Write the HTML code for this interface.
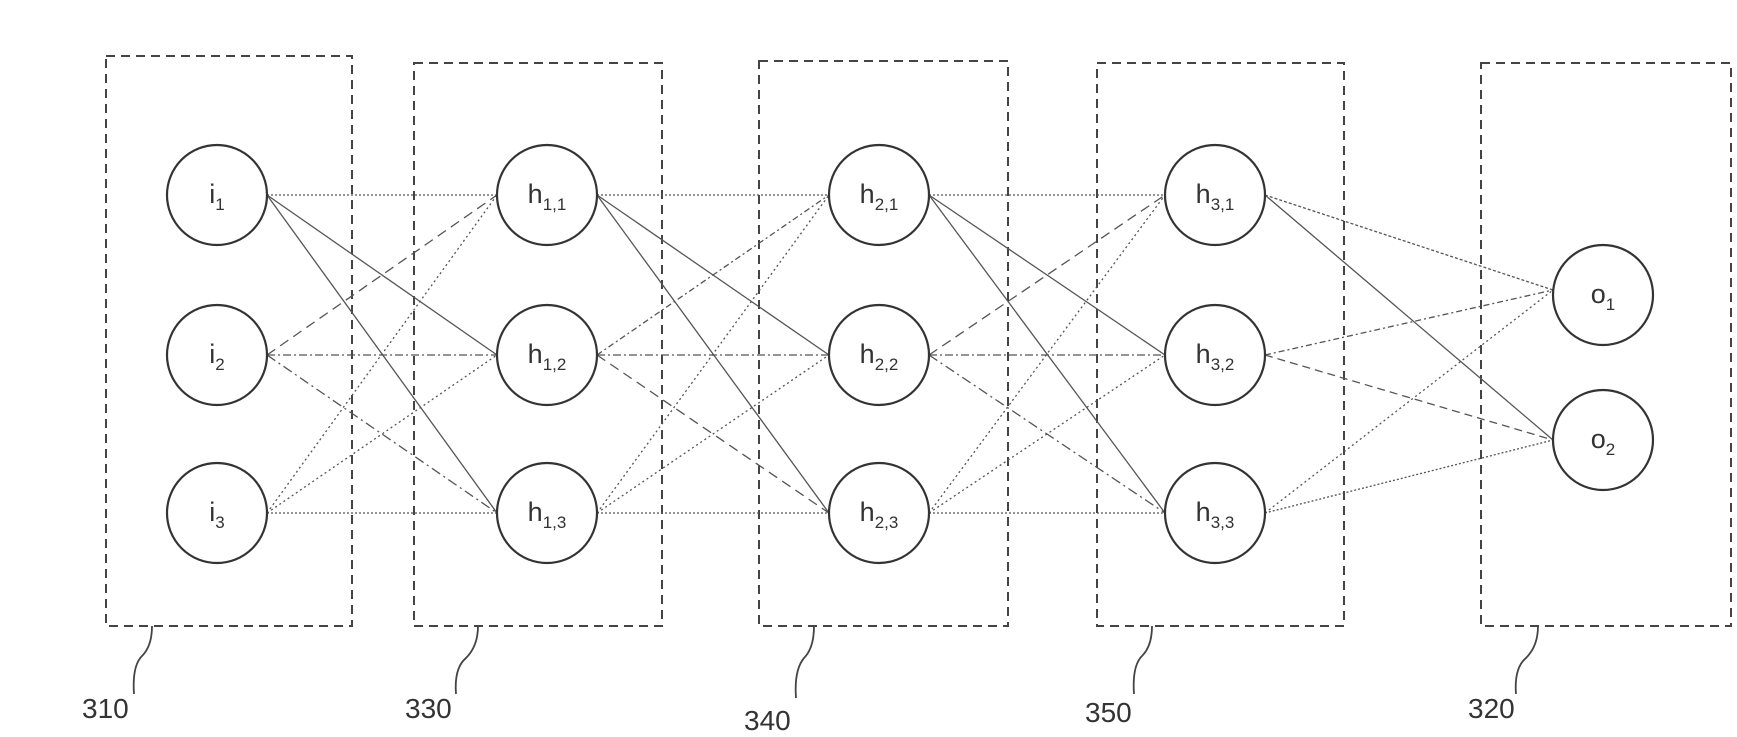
<!DOCTYPE html>
<html><head><meta charset="utf-8"><style>
html,body{margin:0;padding:0;background:#fff;}
svg{display:block;}
text{font-family:"Liberation Sans",sans-serif;fill:#333;}
</style></head><body>
<svg width="1737" height="737" viewBox="0 0 1737 737" xmlns="http://www.w3.org/2000/svg">
<g fill="none" stroke="#444" stroke-width="2" stroke-dasharray="9,6">
<rect x="106" y="56" width="246" height="570"/>
<rect x="414" y="63" width="248" height="563"/>
<rect x="759" y="61" width="249" height="565"/>
<rect x="1097" y="63" width="247" height="563"/>
<rect x="1481" y="63" width="250" height="563"/>
</g>
<g fill="none" stroke="#444" stroke-width="1.8">
<path d="M152,626 q0,20 -10,30 q-10,10 -8,38"/>
<path d="M478,626 q0,20 -12,32 q-12,10 -10,36"/>
<path d="M814,626 q0,22 -10,32 q-10,12 -8,40"/>
<path d="M1152,626 q0,20 -10,30 q-10,10 -8,38"/>
<path d="M1538,626 q0,20 -12,32 q-12,10 -10,36"/>
</g>
<g font-size="28">
<text x="82" y="718">310</text>
<text x="405" y="718">330</text>
<text x="744" y="730">340</text>
<text x="1085" y="722">350</text>
<text x="1468" y="718">320</text>
</g>
<g fill="none" stroke="#555" stroke-width="1.3" id="edges">
<!-- layer 1: i -> h1 -->
<line x1="267" y1="195" x2="497" y2="195" stroke-dasharray="2,2"/>
<line x1="267" y1="195" x2="497" y2="355"/>
<line x1="267" y1="195" x2="497" y2="513"/>
<line x1="267" y1="355" x2="497" y2="195" stroke-dasharray="10,6"/>
<line x1="267" y1="355" x2="497" y2="355" stroke-dasharray="8,3,2,3"/>
<line x1="267" y1="355" x2="497" y2="513" stroke-dasharray="10,4,2,4"/>
<line x1="267" y1="513" x2="497" y2="195" stroke-dasharray="2,3"/>
<line x1="267" y1="513" x2="497" y2="355" stroke-dasharray="2,3"/>
<line x1="267" y1="513" x2="497" y2="513" stroke-dasharray="2,2"/>
<!-- layer 2 -->
<line x1="597" y1="195" x2="829" y2="195" stroke-dasharray="2,2"/>
<line x1="597" y1="195" x2="829" y2="355"/>
<line x1="597" y1="195" x2="829" y2="513"/>
<line x1="597" y1="355" x2="829" y2="195" stroke-dasharray="6,3,2,3"/>
<line x1="597" y1="355" x2="829" y2="355" stroke-dasharray="8,3,2,3"/>
<line x1="597" y1="355" x2="829" y2="513" stroke-dasharray="10,6"/>
<line x1="597" y1="513" x2="829" y2="195" stroke-dasharray="2,3"/>
<line x1="597" y1="513" x2="829" y2="355" stroke-dasharray="2,3"/>
<line x1="597" y1="513" x2="829" y2="513" stroke-dasharray="2,2"/>
<!-- layer 3 -->
<line x1="929" y1="195" x2="1165" y2="195" stroke-dasharray="2,2"/>
<line x1="929" y1="195" x2="1165" y2="355"/>
<line x1="929" y1="195" x2="1165" y2="513"/>
<line x1="929" y1="355" x2="1165" y2="195" stroke-dasharray="10,6"/>
<line x1="929" y1="355" x2="1165" y2="355" stroke-dasharray="8,3,2,3"/>
<line x1="929" y1="355" x2="1165" y2="513" stroke-dasharray="10,4,2,4"/>
<line x1="929" y1="513" x2="1165" y2="195" stroke-dasharray="2,3"/>
<line x1="929" y1="513" x2="1165" y2="355" stroke-dasharray="2,3"/>
<line x1="929" y1="513" x2="1165" y2="513" stroke-dasharray="2,2"/>
<!-- output -->
<line x1="1265" y1="195" x2="1553" y2="290" stroke-dasharray="3,2"/>
<line x1="1265" y1="195" x2="1553" y2="440"/>
<line x1="1265" y1="355" x2="1553" y2="290" stroke-dasharray="6,3,2,3"/>
<line x1="1265" y1="355" x2="1553" y2="440" stroke-dasharray="8,5"/>
<line x1="1265" y1="513" x2="1553" y2="290" stroke-dasharray="2,3"/>
<line x1="1265" y1="513" x2="1553" y2="440" stroke-dasharray="2,2"/>
</g>
<g fill="#fff" stroke="#333" stroke-width="2.2">
<circle cx="217" cy="195" r="50"/><circle cx="217" cy="355" r="50"/><circle cx="217" cy="513" r="50"/>
<circle cx="547" cy="195" r="50"/><circle cx="547" cy="355" r="50"/><circle cx="547" cy="513" r="50"/>
<circle cx="879" cy="195" r="50"/><circle cx="879" cy="355" r="50"/><circle cx="879" cy="513" r="50"/>
<circle cx="1215" cy="195" r="50"/><circle cx="1215" cy="355" r="50"/><circle cx="1215" cy="513" r="50"/>
<circle cx="1603" cy="295" r="50"/><circle cx="1603" cy="440" r="50"/>
</g>
<g font-size="27" text-anchor="middle">
<text x="217" y="203">i<tspan font-size="17" dy="7">1</tspan></text>
<text x="217" y="363">i<tspan font-size="17" dy="7">2</tspan></text>
<text x="217" y="521">i<tspan font-size="17" dy="7">3</tspan></text>
<text x="547" y="203">h<tspan font-size="17" dy="7">1,1</tspan></text>
<text x="547" y="363">h<tspan font-size="17" dy="7">1,2</tspan></text>
<text x="547" y="521">h<tspan font-size="17" dy="7">1,3</tspan></text>
<text x="879" y="203">h<tspan font-size="17" dy="7">2,1</tspan></text>
<text x="879" y="363">h<tspan font-size="17" dy="7">2,2</tspan></text>
<text x="879" y="521">h<tspan font-size="17" dy="7">2,3</tspan></text>
<text x="1215" y="203">h<tspan font-size="17" dy="7">3,1</tspan></text>
<text x="1215" y="363">h<tspan font-size="17" dy="7">3,2</tspan></text>
<text x="1215" y="521">h<tspan font-size="17" dy="7">3,3</tspan></text>
<text x="1603" y="303">o<tspan font-size="17" dy="7">1</tspan></text>
<text x="1603" y="448">o<tspan font-size="17" dy="7">2</tspan></text>
</g>
</svg>
</body></html>
